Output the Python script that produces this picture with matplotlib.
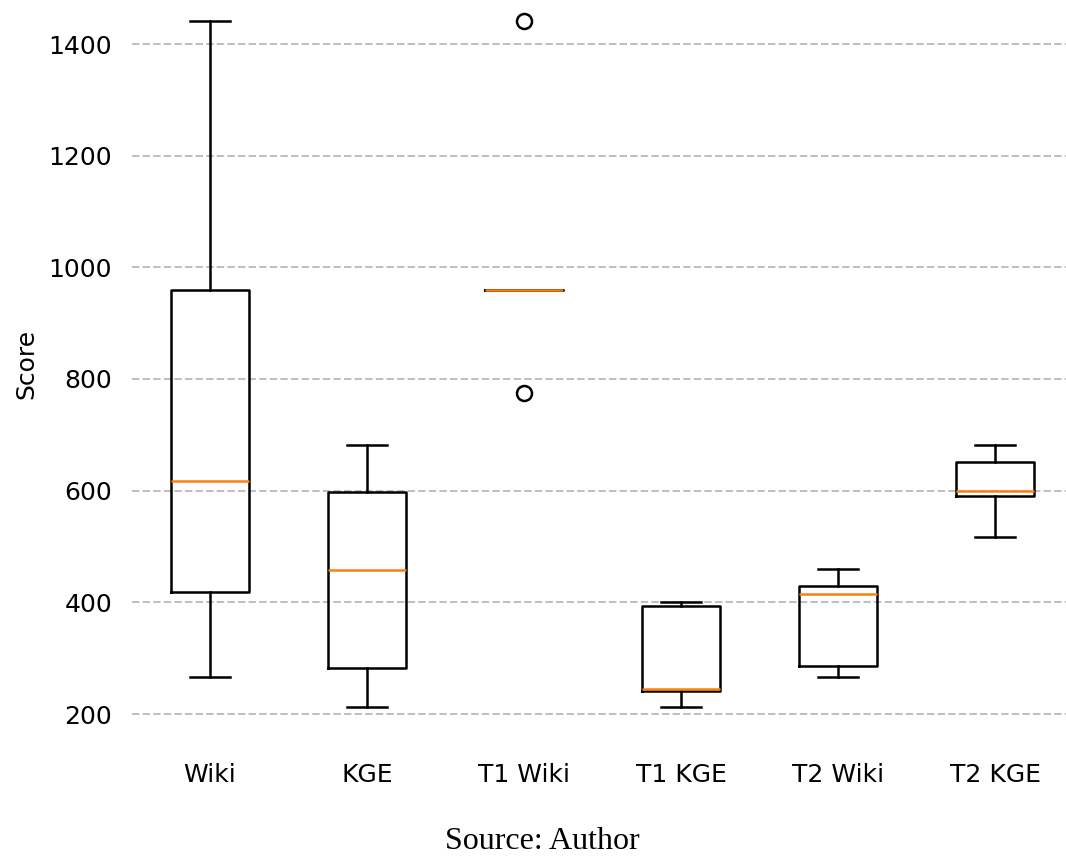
import matplotlib
matplotlib.use('Agg')
import matplotlib.pyplot as plt

# ---- data ----
categories = ['Wiki', 'KGE', 'T1 Wiki', 'T1 KGE', 'T2 Wiki', 'T2 KGE']
t1_wiki = [775, 960, 960, 960, 1441]
t2_wiki = [267, 286, 415, 430, 460]
t1_kge = [212, 241, 245, 393, 400]
t2_kge = [517, 590, 600, 651, 682]
wiki = t1_wiki + t2_wiki
kge = t1_kge + t2_kge
series = [wiki, kge, t1_wiki, t1_kge, t2_wiki, t2_kge]
ytick_values = [200, 400, 600, 800, 1000, 1200, 1400]

plt.rcParams['font.family'] = ['DejaVu Sans']

W, H, DPI = 1066, 857, 180
fig = plt.figure(figsize=(W / DPI, H / DPI), dpi=DPI)
ax = fig.add_axes([0.1, 0.1, 0.8, 0.8])

ax.boxplot(series, tick_labels=categories)
ax.set_yticks(ytick_values)
ax.set_ylabel('Score')

for s in ax.spines.values():
    s.set_visible(False)
ax.tick_params(axis='y', length=0, pad=7.8)
ax.tick_params(axis='x', length=0, pad=8.5)
ax.yaxis.grid(True, linestyle='--', color='gray', alpha=0.5, linewidth=0.8)
ax.set_axisbelow(True)

# place axes so that the data scale matches the reference layout
ax.set_xlim(0.5, 6.5)
y0, y1 = ax.get_ylim()
def ypx(v):
    return 714 - (v - 200) * 670.0 / 1200.0
def xpx(v):
    return 210 + (v - 1) * 157.0
bot_px, top_px = ypx(y0), ypx(y1)
left_px, right_px = xpx(0.5), xpx(6.5)
ax.set_position([left_px / W, 1 - bot_px / H,
                 (right_px - left_px) / W, (bot_px - top_px) / H])

fig.text(542.5 / W, 1.0 / H, 'Source: Author',
         family='Liberation Serif', size=12.8, ha='center', va='bottom')

fig.savefig('out.png', dpi=DPI)
